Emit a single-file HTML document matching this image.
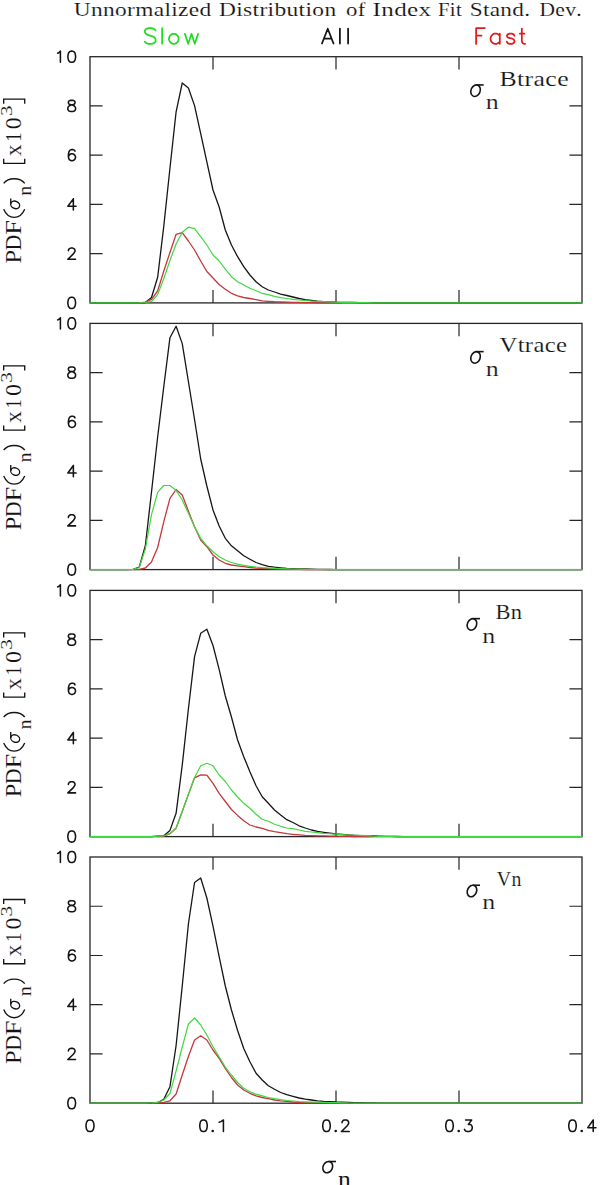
<!DOCTYPE html>
<html><head><meta charset="utf-8"><title>Unnormalized Distribution of Index Fit Stand. Dev.</title>
<style>
html,body{margin:0;padding:0;background:#fff;width:600px;height:1185px;overflow:hidden}
svg{display:block}
text{font-kerning:none}
</style></head><body>
<svg width="600" height="1185" viewBox="0 0 600 1185">
<rect width="600" height="1185" fill="#fff"/>
<text transform="translate(73.71,16.00) scale(1.1776,1)" font-family='"Liberation Serif",serif' font-size="19.85" letter-spacing="0.300" stroke="#fff" stroke-width="0.12" fill="#141414" >Unnormalized</text>
<text transform="translate(218.92,16.00) scale(1.1814,1)" font-family='"Liberation Serif",serif' font-size="19.85" letter-spacing="0.300" stroke="#fff" stroke-width="0.12" fill="#141414" >Distribution</text>
<text transform="translate(345.93,16.00) scale(1.1445,1)" font-family='"Liberation Serif",serif' font-size="19.85" letter-spacing="0.300" stroke="#fff" stroke-width="0.12" fill="#141414" >of</text>
<text transform="translate(372.49,16.00) scale(1.2657,1)" font-family='"Liberation Serif",serif' font-size="19.85" letter-spacing="0.300" stroke="#fff" stroke-width="0.12" fill="#141414" >Index</text>
<text transform="translate(438.00,16.00) scale(1.0465,1)" font-family='"Liberation Serif",serif' font-size="19.85" letter-spacing="0.300" stroke="#fff" stroke-width="0.12" fill="#141414" >Fit</text>
<text transform="translate(469.65,16.00) scale(1.1706,1)" font-family='"Liberation Serif",serif' font-size="19.85" letter-spacing="0.300" stroke="#fff" stroke-width="0.12" fill="#141414" >Stand.</text>
<text transform="translate(539.48,16.00) scale(1.0824,1)" font-family='"Liberation Serif",serif' font-size="19.85" letter-spacing="0.300" stroke="#fff" stroke-width="0.12" fill="#141414" >Dev.</text>
<path d="M155.62,30.38L154.08,28.88L151.75,28.12L148.65,28.12L146.33,28.88L144.78,30.38L144.78,31.88L145.55,33.38L146.33,34.12L147.88,34.88L152.53,36.38L154.08,37.12L154.85,37.88L155.62,39.38L155.62,41.62L154.08,43.12L151.75,43.88L148.65,43.88L146.33,43.12L144.78,41.62M162.12,28.18L162.12,43.73M172.69,33.88L171.20,34.59L169.72,36.01L168.97,38.14L168.97,39.56L169.72,41.69L171.20,43.11L172.69,43.83L174.91,43.83L176.40,43.11L177.88,41.69L178.62,39.56L178.62,38.14L177.88,36.01L176.40,34.59L174.91,33.88L172.69,33.88M184.88,33.88L188.19,43.83M191.50,33.88L188.19,43.83M191.50,33.88L194.81,43.83M198.12,33.88L194.81,43.83" fill="none" stroke="#22dc22" stroke-width="1.75" stroke-linecap="round" stroke-linejoin="round"/>
<path d="M327.75,28.77L321.98,43.52M327.75,28.77L333.52,43.52M324.14,38.61L331.36,38.61M339.90,28.58L339.90,43.52M348.10,28.58L348.10,43.52" fill="none" stroke="#141414" stroke-width="1.75" stroke-linecap="round" stroke-linejoin="round"/>
<path d="M476.12,28.12L476.12,43.88M476.12,28.12L484.88,28.12M476.12,35.62L481.51,35.62M499.82,33.58L499.82,43.83M499.82,35.77L498.28,34.31L496.74,33.58L494.43,33.58L492.89,34.31L491.35,35.77L490.57,37.97L490.57,39.43L491.35,41.63L492.89,43.09L494.43,43.83L496.74,43.83L498.28,43.09L499.82,41.63M514.42,35.77L513.74,34.31L511.68,33.58L509.62,33.58L507.56,34.31L506.88,35.77L507.56,37.24L508.93,37.97L512.37,38.70L513.74,39.43L514.42,40.90L514.42,41.63L513.74,43.09L511.68,43.83L509.62,43.83L507.56,43.09L506.88,41.63M521.84,28.57L521.84,40.92L522.50,43.10L523.81,43.83L525.12,43.83M519.88,33.66L524.47,33.66" fill="none" stroke="#e01c1c" stroke-width="1.75" stroke-linecap="round" stroke-linejoin="round"/>
<rect x="90.0" y="56.7" width="492.0" height="246.2" fill="none" stroke="#262626" stroke-width="1.3"/>
<path d="M90.0,253.66h12.6M582.0,253.66h-12.6M90.0,204.42h12.6M582.0,204.42h-12.6M90.0,155.18h12.6M582.0,155.18h-12.6M90.0,105.94h12.6M582.0,105.94h-12.6M213.00,56.7v12.8M213.00,302.9v-12.8M336.00,56.7v12.8M336.00,302.9v-12.8M459.00,56.7v12.8M459.00,302.9v-12.8" stroke="#262626" stroke-width="1.2" fill="none"/>
<polyline points="90.00,302.90 96.15,302.90 102.30,302.90 108.45,302.90 114.60,302.90 120.75,302.90 126.90,302.90 133.05,302.90 139.20,302.90 145.35,302.50 151.50,297.50 157.65,277.30 163.80,226.00 169.95,168.30 176.10,111.80 182.25,83.00 188.40,88.00 194.55,105.60 200.70,133.70 206.85,161.90 213.00,190.00 219.15,207.00 225.30,230.00 231.45,245.00 237.60,256.70 243.75,266.70 249.90,275.00 256.05,281.70 262.20,286.70 268.35,290.00 274.50,292.00 280.65,294.20 286.80,295.50 292.95,297.00 299.10,298.50 305.25,299.70 311.40,300.50 317.55,301.20 323.70,301.60 329.85,301.90 336.00,302.20 342.15,302.30 348.30,302.40 354.45,302.47 360.60,302.53 366.75,302.60 372.90,302.72 379.05,302.79 385.20,302.84 391.35,302.86 397.50,302.88 403.65,302.89 409.80,302.89 415.95,302.89 422.10,302.90 428.25,302.90 434.40,302.90 440.55,302.90 446.70,302.90 452.85,302.90 459.00,302.90 465.15,302.90 471.30,302.90 477.45,302.90 483.60,302.90 489.75,302.90 495.90,302.90 502.05,302.90 508.20,302.90 514.35,302.90 520.50,302.90 526.65,302.90 532.80,302.90 538.95,302.90 545.10,302.90 551.25,302.90 557.40,302.90 563.55,302.90 569.70,302.90 575.85,302.90 582.00,302.90" fill="none" stroke="#161616" stroke-width="1.3" stroke-linejoin="round"/>
<polyline points="139.20,302.90 145.35,302.20 151.50,299.30 157.65,291.00 163.80,271.00 169.95,252.50 176.10,234.30 182.25,232.60 188.40,241.00 194.55,250.00 200.70,261.00 206.85,271.50 213.00,278.00 219.15,284.50 225.30,289.30 231.45,293.30 237.60,295.80 243.75,297.50 249.90,298.50 256.05,299.70 262.20,300.80 268.35,301.30 274.50,301.70 280.65,301.95 286.80,302.20 292.95,302.33 299.10,302.47 305.25,302.60 311.40,302.72 317.55,302.79 323.70,302.84 329.85,302.86 336.00,302.88 342.15,302.89" fill="none" stroke="#c4383c" stroke-width="1.3" stroke-linejoin="round"/>
<polyline points="90.00,302.90 96.15,302.90 102.30,302.90 108.45,302.90 114.60,302.90 120.75,302.90 126.90,302.90 133.05,302.90 139.20,302.90 145.35,302.50 151.50,301.50 157.65,294.60 163.80,278.50 169.95,260.50 176.10,244.00 182.25,232.20 188.40,227.20 194.55,228.70 200.70,236.70 206.85,245.00 213.00,255.00 219.15,261.00 225.30,269.20 231.45,276.70 237.60,281.70 243.75,285.00 249.90,288.30 256.05,290.80 262.20,293.30 268.35,294.70 274.50,296.30 280.65,297.60 286.80,298.50 292.95,299.30 299.10,300.00 305.25,300.60 311.40,301.00 317.55,301.35 323.70,301.70 329.85,301.95 336.00,302.20 342.15,302.30 348.30,302.40 354.45,302.50 360.60,302.60 366.75,302.72 372.90,302.79 379.05,302.84 385.20,302.86 391.35,302.88 397.50,302.89 403.65,302.89 409.80,302.89 415.95,302.90 422.10,302.90 428.25,302.90 434.40,302.90 440.55,302.90 446.70,302.90 452.85,302.90 459.00,302.90 465.15,302.90 471.30,302.90 477.45,302.90 483.60,302.90 489.75,302.90 495.90,302.90 502.05,302.90 508.20,302.90 514.35,302.90 520.50,302.90 526.65,302.90 532.80,302.90 538.95,302.90 545.10,302.90 551.25,302.90 557.40,302.90 563.55,302.90 569.70,302.90 575.85,302.90 582.00,302.90" fill="none" stroke="#40d840" stroke-width="1.2" stroke-linejoin="round"/>
<path d="M71.15,297.32L69.50,297.85L68.40,299.43L67.85,302.08L67.85,303.66L68.40,306.31L69.50,307.90L71.15,308.43L72.25,308.43L73.90,307.90L75.00,306.31L75.55,303.66L75.55,302.08L75.00,299.43L73.90,297.85L72.25,297.32L71.15,297.32M68.40,250.72L68.40,250.19L68.95,249.13L69.50,248.60L70.60,248.08L72.80,248.08L73.90,248.60L74.45,249.13L75.00,250.19L75.00,251.25L74.45,252.31L73.35,253.90L67.85,259.19L75.55,259.19M73.35,198.84L67.85,206.24L76.10,206.24M73.35,198.84L73.35,209.94M75.00,151.18L74.45,150.12L72.80,149.60L71.70,149.60L70.05,150.12L68.95,151.71L68.40,154.36L68.40,157.00L68.95,159.12L70.05,160.18L71.70,160.71L72.25,160.71L73.90,160.18L75.00,159.12L75.55,157.53L75.55,157.00L75.00,155.42L73.90,154.36L72.25,153.83L71.70,153.83L70.05,154.36L68.95,155.42L68.40,157.00M70.60,100.36L68.95,100.88L68.40,101.94L68.40,103.00L68.95,104.06L70.05,104.59L72.25,105.12L73.90,105.65L75.00,106.70L75.55,107.76L75.55,109.35L75.00,110.41L74.45,110.94L72.80,111.46L70.60,111.46L68.95,110.94L68.40,110.41L67.85,109.35L67.85,107.76L68.40,106.70L69.50,105.65L71.15,105.12L73.35,104.59L74.45,104.06L75.00,103.00L75.00,101.94L74.45,100.88L72.80,100.36L70.60,100.36M57.65,53.23L58.75,52.70L60.40,51.12L60.40,62.22M71.20,51.12L69.55,51.64L68.45,53.23L67.90,55.88L67.90,57.46L68.45,60.11L69.55,61.70L71.20,62.22L72.30,62.22L73.95,61.70L75.05,60.11L75.60,57.46L75.60,55.88L75.05,53.23L73.95,51.64L72.30,51.12L71.20,51.12" fill="none" stroke="#141414" stroke-width="1.55" stroke-linecap="round" stroke-linejoin="round"/>
<g transform="translate(20.7,262.90) rotate(-90)"><text transform="translate(-0.70,0.00) scale(1.0713,1)" font-family='"Liberation Serif",serif' font-size="22.60" stroke="#fff" stroke-width="0.12" fill="#141414" >P</text><text transform="translate(12.47,-0.04) scale(0.9713,1)" font-family='"Liberation Serif",serif' font-size="22.54" stroke="#fff" stroke-width="0.12" fill="#141414" >D</text><text transform="translate(28.04,0.00) scale(1.1709,1)" font-family='"Liberation Serif",serif' font-size="22.60" stroke="#fff" stroke-width="0.12" fill="#141414" >F</text><g transform="translate(53.60,-10.60) scale(0.8057,0.8031)" fill="none" stroke="#141414" stroke-width="1.35"><ellipse cx="5.5" cy="6.35" rx="4.52" ry="5.74" transform="rotate(24.5 5.5 6.35)" vector-effect="non-scaling-stroke"/><path d="M6.35,0.8H13.5" vector-effect="non-scaling-stroke"/></g><text transform="translate(67.04,10.10) scale(1.1294,1)" font-family='"Liberation Serif",serif' font-size="17.83" stroke="#fff" stroke-width="0.12" fill="#141414" >n</text><text transform="translate(106.90,0.20) scale(1.0233,1)" font-family='"Liberation Serif",serif' font-size="22.44" stroke="#fff" stroke-width="0.12" fill="#141414" >x</text><text transform="translate(121.13,0.20) scale(0.8432,1)" font-family='"Liberation Serif",serif' font-size="22.57" stroke="#fff" stroke-width="0.12" fill="#141414" >1</text><text transform="translate(133.58,-0.02) scale(1.0684,1)" font-family='"Liberation Serif",serif' font-size="22.53" stroke="#fff" stroke-width="0.12" fill="#141414" >0</text><text transform="translate(146.79,-9.06) scale(1.2864,1)" font-family='"Liberation Serif",serif' font-size="16.37" stroke="#fff" stroke-width="0.12" fill="#141414" >3</text><path d="M53.60,-17.02C42.77,-12.39 42.77,-0.61 53.60,4.02M79.60,-17.02C85.63,-12.39 85.63,-0.61 79.60,4.02M104.1,-17.02H99.47V4.02H104.1M159.1,-17.02H163.72V4.02H159.1" fill="none" stroke="#141414" stroke-width="1.35"/></g>
<g transform="translate(470.00,84.10) scale(1.0106,1.0394)" fill="none" stroke="#141414" stroke-width="1.6"><ellipse cx="5.5" cy="6.35" rx="4.52" ry="5.74" transform="rotate(24.5 5.5 6.35)" vector-effect="non-scaling-stroke"/><path d="M6.35,0.8H13.5" vector-effect="non-scaling-stroke"/></g>
<text transform="translate(485.80,109.00) scale(1.1884,1)" font-family='"Liberation Serif",serif' font-size="21.86" stroke="#fff" stroke-width="0.2" fill="#141414" >n</text>
<text transform="translate(499.56,85.50) scale(1.2054,1)" font-family='"Liberation Serif",serif' font-size="21.37" letter-spacing="0.300" stroke="#fff" stroke-width="0.15" fill="#141414" >Btrace</text>
<rect x="90.0" y="323.4" width="492.0" height="246.2" fill="none" stroke="#262626" stroke-width="1.3"/>
<path d="M90.0,520.36h12.6M582.0,520.36h-12.6M90.0,471.12h12.6M582.0,471.12h-12.6M90.0,421.88h12.6M582.0,421.88h-12.6M90.0,372.64h12.6M582.0,372.64h-12.6M213.00,323.4v12.8M213.00,569.5999999999999v-12.8M336.00,323.4v12.8M336.00,569.5999999999999v-12.8M459.00,323.4v12.8M459.00,569.5999999999999v-12.8" stroke="#262626" stroke-width="1.2" fill="none"/>
<polyline points="90.00,569.60 96.15,569.60 102.30,569.60 108.45,569.60 114.60,569.60 120.75,569.60 126.90,569.60 133.05,569.30 139.20,567.20 145.35,545.70 151.50,492.00 157.65,437.00 163.80,386.50 169.95,337.70 176.10,326.20 182.25,343.60 188.40,381.50 194.55,419.50 200.70,459.00 206.85,486.00 213.00,510.00 219.15,526.00 225.30,538.30 231.45,545.80 237.60,550.80 243.75,555.80 249.90,559.20 256.05,562.50 262.20,564.70 268.35,566.30 274.50,567.20 280.65,567.80 286.80,568.30 292.95,568.55 299.10,568.80 305.25,569.00 311.40,569.20 317.55,569.36 323.70,569.46 329.85,569.51 336.00,569.55 342.15,569.57 348.30,569.58 354.45,569.59 360.60,569.59 366.75,569.60 372.90,569.60 379.05,569.60 385.20,569.60 391.35,569.60 397.50,569.60 403.65,569.60 409.80,569.60 415.95,569.60 422.10,569.60 428.25,569.60 434.40,569.60 440.55,569.60 446.70,569.60 452.85,569.60 459.00,569.60 465.15,569.60 471.30,569.60 477.45,569.60 483.60,569.60 489.75,569.60 495.90,569.60 502.05,569.60 508.20,569.60 514.35,569.60 520.50,569.60 526.65,569.60 532.80,569.60 538.95,569.60 545.10,569.60 551.25,569.60 557.40,569.60 563.55,569.60 569.70,569.60 575.85,569.60 582.00,569.60" fill="none" stroke="#161616" stroke-width="1.3" stroke-linejoin="round"/>
<polyline points="133.05,569.60 139.20,569.30 145.35,568.00 151.50,562.00 157.65,547.50 163.80,521.60 169.95,498.40 176.10,489.50 182.25,495.00 188.40,511.20 194.55,526.70 200.70,540.00 206.85,546.70 213.00,555.00 219.15,560.00 225.30,563.30 231.45,565.00 237.60,565.80 243.75,566.70 249.90,567.50 256.05,568.00 262.20,568.30 268.35,568.60 274.50,568.90 280.65,569.03 286.80,569.17 292.95,569.30 299.10,569.42 305.25,569.49 311.40,569.54 317.55,569.56 323.70,569.58 329.85,569.59" fill="none" stroke="#c4383c" stroke-width="1.3" stroke-linejoin="round"/>
<polyline points="90.00,569.60 96.15,569.60 102.30,569.60 108.45,569.60 114.60,569.60 120.75,569.60 126.90,569.60 133.05,569.30 139.20,567.50 145.35,549.00 151.50,514.70 157.65,492.40 163.80,485.50 169.95,485.50 176.10,490.50 182.25,500.00 188.40,513.30 194.55,526.70 200.70,538.30 206.85,545.80 213.00,551.70 219.15,556.70 225.30,560.00 231.45,562.50 237.60,564.20 243.75,565.30 249.90,566.30 256.05,567.20 262.20,567.70 268.35,568.00 274.50,568.30 280.65,568.60 286.80,568.80 292.95,569.00 299.10,569.20 305.25,569.36 311.40,569.46 317.55,569.51 323.70,569.55 329.85,569.57 336.00,569.58 342.15,569.59 348.30,569.59 354.45,569.60 360.60,569.60 366.75,569.60 372.90,569.60 379.05,569.60 385.20,569.60 391.35,569.60 397.50,569.60 403.65,569.60 409.80,569.60 415.95,569.60 422.10,569.60 428.25,569.60 434.40,569.60 440.55,569.60 446.70,569.60 452.85,569.60 459.00,569.60 465.15,569.60 471.30,569.60 477.45,569.60 483.60,569.60 489.75,569.60 495.90,569.60 502.05,569.60 508.20,569.60 514.35,569.60 520.50,569.60 526.65,569.60 532.80,569.60 538.95,569.60 545.10,569.60 551.25,569.60 557.40,569.60 563.55,569.60 569.70,569.60 575.85,569.60 582.00,569.60" fill="none" stroke="#40d840" stroke-width="1.2" stroke-linejoin="round"/>
<path d="M71.15,564.02L69.50,564.54L68.40,566.13L67.85,568.78L67.85,570.36L68.40,573.01L69.50,574.60L71.15,575.12L72.25,575.12L73.90,574.60L75.00,573.01L75.55,570.36L75.55,568.78L75.00,566.13L73.90,564.54L72.25,564.02L71.15,564.02M68.40,517.42L68.40,516.89L68.95,515.83L69.50,515.30L70.60,514.78L72.80,514.78L73.90,515.30L74.45,515.83L75.00,516.89L75.00,517.95L74.45,519.01L73.35,520.59L67.85,525.88L75.55,525.88M73.35,465.54L67.85,472.94L76.10,472.94M73.35,465.54L73.35,476.64M75.00,417.88L74.45,416.82L72.80,416.30L71.70,416.30L70.05,416.82L68.95,418.41L68.40,421.06L68.40,423.70L68.95,425.82L70.05,426.88L71.70,427.40L72.25,427.40L73.90,426.88L75.00,425.82L75.55,424.23L75.55,423.70L75.00,422.11L73.90,421.06L72.25,420.53L71.70,420.53L70.05,421.06L68.95,422.11L68.40,423.70M70.60,367.06L68.95,367.58L68.40,368.64L68.40,369.70L68.95,370.76L70.05,371.29L72.25,371.82L73.90,372.35L75.00,373.40L75.55,374.46L75.55,376.05L75.00,377.11L74.45,377.64L72.80,378.16L70.60,378.16L68.95,377.64L68.40,377.11L67.85,376.05L67.85,374.46L68.40,373.40L69.50,372.35L71.15,371.82L73.35,371.29L74.45,370.76L75.00,369.70L75.00,368.64L74.45,367.58L72.80,367.06L70.60,367.06M57.65,319.93L58.75,319.40L60.40,317.82L60.40,328.92M71.20,317.82L69.55,318.34L68.45,319.93L67.90,322.58L67.90,324.16L68.45,326.81L69.55,328.40L71.20,328.92L72.30,328.92L73.95,328.40L75.05,326.81L75.60,324.16L75.60,322.58L75.05,319.93L73.95,318.34L72.30,317.82L71.20,317.82" fill="none" stroke="#141414" stroke-width="1.55" stroke-linecap="round" stroke-linejoin="round"/>
<g transform="translate(20.7,529.60) rotate(-90)"><text transform="translate(-0.70,0.00) scale(1.0713,1)" font-family='"Liberation Serif",serif' font-size="22.60" stroke="#fff" stroke-width="0.12" fill="#141414" >P</text><text transform="translate(12.47,-0.04) scale(0.9713,1)" font-family='"Liberation Serif",serif' font-size="22.54" stroke="#fff" stroke-width="0.12" fill="#141414" >D</text><text transform="translate(28.04,0.00) scale(1.1709,1)" font-family='"Liberation Serif",serif' font-size="22.60" stroke="#fff" stroke-width="0.12" fill="#141414" >F</text><g transform="translate(53.60,-10.60) scale(0.8057,0.8031)" fill="none" stroke="#141414" stroke-width="1.35"><ellipse cx="5.5" cy="6.35" rx="4.52" ry="5.74" transform="rotate(24.5 5.5 6.35)" vector-effect="non-scaling-stroke"/><path d="M6.35,0.8H13.5" vector-effect="non-scaling-stroke"/></g><text transform="translate(67.04,10.10) scale(1.1294,1)" font-family='"Liberation Serif",serif' font-size="17.83" stroke="#fff" stroke-width="0.12" fill="#141414" >n</text><text transform="translate(106.90,0.20) scale(1.0233,1)" font-family='"Liberation Serif",serif' font-size="22.44" stroke="#fff" stroke-width="0.12" fill="#141414" >x</text><text transform="translate(121.13,0.20) scale(0.8432,1)" font-family='"Liberation Serif",serif' font-size="22.57" stroke="#fff" stroke-width="0.12" fill="#141414" >1</text><text transform="translate(133.58,-0.02) scale(1.0684,1)" font-family='"Liberation Serif",serif' font-size="22.53" stroke="#fff" stroke-width="0.12" fill="#141414" >0</text><text transform="translate(146.79,-9.06) scale(1.2864,1)" font-family='"Liberation Serif",serif' font-size="16.37" stroke="#fff" stroke-width="0.12" fill="#141414" >3</text><path d="M53.60,-17.02C42.77,-12.39 42.77,-0.61 53.60,4.02M79.60,-17.02C85.63,-12.39 85.63,-0.61 79.60,4.02M104.1,-17.02H99.47V4.02H104.1M159.1,-17.02H163.72V4.02H159.1" fill="none" stroke="#141414" stroke-width="1.35"/></g>
<g transform="translate(470.00,350.80) scale(1.0106,1.0394)" fill="none" stroke="#141414" stroke-width="1.6"><ellipse cx="5.5" cy="6.35" rx="4.52" ry="5.74" transform="rotate(24.5 5.5 6.35)" vector-effect="non-scaling-stroke"/><path d="M6.35,0.8H13.5" vector-effect="non-scaling-stroke"/></g>
<text transform="translate(485.80,375.70) scale(1.1884,1)" font-family='"Liberation Serif",serif' font-size="21.86" stroke="#fff" stroke-width="0.2" fill="#141414" >n</text>
<text transform="translate(499.42,352.20) scale(1.1588,1)" font-family='"Liberation Serif",serif' font-size="21.37" letter-spacing="0.300" stroke="#fff" stroke-width="0.15" fill="#141414" >Vtrace</text>
<rect x="90.0" y="590.4" width="492.0" height="246.2" fill="none" stroke="#262626" stroke-width="1.3"/>
<path d="M90.0,787.36h12.6M582.0,787.36h-12.6M90.0,738.12h12.6M582.0,738.12h-12.6M90.0,688.88h12.6M582.0,688.88h-12.6M90.0,639.64h12.6M582.0,639.64h-12.6M213.00,590.4v12.8M213.00,836.5999999999999v-12.8M336.00,590.4v12.8M336.00,836.5999999999999v-12.8M459.00,590.4v12.8M459.00,836.5999999999999v-12.8" stroke="#262626" stroke-width="1.2" fill="none"/>
<polyline points="90.00,836.60 96.15,836.60 102.30,836.60 108.45,836.60 114.60,836.60 120.75,836.60 126.90,836.60 133.05,836.60 139.20,836.60 145.35,836.60 151.50,836.60 157.65,836.20 163.80,835.80 169.95,830.40 176.10,813.30 182.25,765.00 188.40,709.00 194.55,656.70 200.70,633.30 206.85,629.20 213.00,645.50 219.15,669.30 225.30,696.00 231.45,717.00 237.60,740.00 243.75,756.70 249.90,771.70 256.05,785.80 262.20,796.70 268.35,803.30 274.50,810.00 280.65,815.00 286.80,819.70 292.95,822.50 299.10,825.80 305.25,828.00 311.40,830.00 317.55,831.30 323.70,832.30 329.85,833.20 336.00,834.00 342.15,834.50 348.30,835.00 354.45,835.30 360.60,835.60 366.75,835.80 372.90,836.00 379.05,836.24 385.20,836.38 391.35,836.47 397.50,836.52 403.65,836.55 409.80,836.57 415.95,836.58 422.10,836.59 428.25,836.59 434.40,836.60 440.55,836.60 446.70,836.60 452.85,836.60 459.00,836.60 465.15,836.60 471.30,836.60 477.45,836.60 483.60,836.60 489.75,836.60 495.90,836.60 502.05,836.60 508.20,836.60 514.35,836.60 520.50,836.60 526.65,836.60 532.80,836.60 538.95,836.60 545.10,836.60 551.25,836.60 557.40,836.60 563.55,836.60 569.70,836.60 575.85,836.60 582.00,836.60" fill="none" stroke="#161616" stroke-width="1.3" stroke-linejoin="round"/>
<polyline points="157.65,836.60 163.80,836.20 169.95,833.70 176.10,828.20 182.25,811.50 188.40,794.40 194.55,777.80 200.70,774.80 206.85,775.20 213.00,783.30 219.15,793.30 225.30,801.50 231.45,809.50 237.60,815.40 243.75,820.80 249.90,825.00 256.05,827.00 262.20,828.30 268.35,830.30 274.50,831.70 280.65,832.70 286.80,833.70 292.95,834.30 299.10,834.80 305.25,835.30 311.40,835.55 317.55,835.80 323.70,835.93 329.85,836.07 336.00,836.20 342.15,836.36 348.30,836.46 354.45,836.51 360.60,836.55 366.75,836.57 372.90,836.58" fill="none" stroke="#c4383c" stroke-width="1.3" stroke-linejoin="round"/>
<polyline points="90.00,836.60 96.15,836.60 102.30,836.60 108.45,836.60 114.60,836.60 120.75,836.60 126.90,836.60 133.05,836.60 139.20,836.60 145.35,836.60 151.50,836.60 157.65,836.20 163.80,836.00 169.95,833.50 176.10,828.00 182.25,811.30 188.40,794.50 194.55,777.50 200.70,765.80 206.85,763.30 213.00,765.80 219.15,775.00 225.30,781.50 231.45,790.00 237.60,797.00 243.75,803.30 249.90,808.30 256.05,814.20 262.20,819.20 268.35,821.30 274.50,824.20 280.65,826.30 286.80,828.00 292.95,828.70 299.10,830.00 305.25,831.30 311.40,832.00 317.55,832.70 323.70,833.30 329.85,833.75 336.00,834.20 342.15,834.60 348.30,835.00 354.45,835.23 360.60,835.47 366.75,835.70 372.90,836.06 379.05,836.28 385.20,836.41 391.35,836.48 397.50,836.53 403.65,836.56 409.80,836.57 415.95,836.58 422.10,836.59 428.25,836.59 434.40,836.60 440.55,836.60 446.70,836.60 452.85,836.60 459.00,836.60 465.15,836.60 471.30,836.60 477.45,836.60 483.60,836.60 489.75,836.60 495.90,836.60 502.05,836.60 508.20,836.60 514.35,836.60 520.50,836.60 526.65,836.60 532.80,836.60 538.95,836.60 545.10,836.60 551.25,836.60 557.40,836.60 563.55,836.60 569.70,836.60 575.85,836.60 582.00,836.60" fill="none" stroke="#40d840" stroke-width="1.2" stroke-linejoin="round"/>
<path d="M71.15,831.02L69.50,831.54L68.40,833.13L67.85,835.78L67.85,837.36L68.40,840.01L69.50,841.60L71.15,842.12L72.25,842.12L73.90,841.60L75.00,840.01L75.55,837.36L75.55,835.78L75.00,833.13L73.90,831.54L72.25,831.02L71.15,831.02M68.40,784.42L68.40,783.89L68.95,782.83L69.50,782.30L70.60,781.78L72.80,781.78L73.90,782.30L74.45,782.83L75.00,783.89L75.00,784.95L74.45,786.01L73.35,787.59L67.85,792.88L75.55,792.88M73.35,732.54L67.85,739.94L76.10,739.94M73.35,732.54L73.35,743.64M75.00,684.88L74.45,683.82L72.80,683.30L71.70,683.30L70.05,683.82L68.95,685.41L68.40,688.06L68.40,690.70L68.95,692.82L70.05,693.88L71.70,694.40L72.25,694.40L73.90,693.88L75.00,692.82L75.55,691.23L75.55,690.70L75.00,689.11L73.90,688.06L72.25,687.53L71.70,687.53L70.05,688.06L68.95,689.11L68.40,690.70M70.60,634.06L68.95,634.58L68.40,635.64L68.40,636.70L68.95,637.76L70.05,638.29L72.25,638.82L73.90,639.35L75.00,640.40L75.55,641.46L75.55,643.05L75.00,644.11L74.45,644.64L72.80,645.16L70.60,645.16L68.95,644.64L68.40,644.11L67.85,643.05L67.85,641.46L68.40,640.40L69.50,639.35L71.15,638.82L73.35,638.29L74.45,637.76L75.00,636.70L75.00,635.64L74.45,634.58L72.80,634.06L70.60,634.06M57.65,586.93L58.75,586.40L60.40,584.82L60.40,595.92M71.20,584.82L69.55,585.34L68.45,586.93L67.90,589.58L67.90,591.16L68.45,593.81L69.55,595.40L71.20,595.92L72.30,595.92L73.95,595.40L75.05,593.81L75.60,591.16L75.60,589.58L75.05,586.93L73.95,585.34L72.30,584.82L71.20,584.82" fill="none" stroke="#141414" stroke-width="1.55" stroke-linecap="round" stroke-linejoin="round"/>
<g transform="translate(20.7,796.60) rotate(-90)"><text transform="translate(-0.70,0.00) scale(1.0713,1)" font-family='"Liberation Serif",serif' font-size="22.60" stroke="#fff" stroke-width="0.12" fill="#141414" >P</text><text transform="translate(12.47,-0.04) scale(0.9713,1)" font-family='"Liberation Serif",serif' font-size="22.54" stroke="#fff" stroke-width="0.12" fill="#141414" >D</text><text transform="translate(28.04,0.00) scale(1.1709,1)" font-family='"Liberation Serif",serif' font-size="22.60" stroke="#fff" stroke-width="0.12" fill="#141414" >F</text><g transform="translate(53.60,-10.60) scale(0.8057,0.8031)" fill="none" stroke="#141414" stroke-width="1.35"><ellipse cx="5.5" cy="6.35" rx="4.52" ry="5.74" transform="rotate(24.5 5.5 6.35)" vector-effect="non-scaling-stroke"/><path d="M6.35,0.8H13.5" vector-effect="non-scaling-stroke"/></g><text transform="translate(67.04,10.10) scale(1.1294,1)" font-family='"Liberation Serif",serif' font-size="17.83" stroke="#fff" stroke-width="0.12" fill="#141414" >n</text><text transform="translate(106.90,0.20) scale(1.0233,1)" font-family='"Liberation Serif",serif' font-size="22.44" stroke="#fff" stroke-width="0.12" fill="#141414" >x</text><text transform="translate(121.13,0.20) scale(0.8432,1)" font-family='"Liberation Serif",serif' font-size="22.57" stroke="#fff" stroke-width="0.12" fill="#141414" >1</text><text transform="translate(133.58,-0.02) scale(1.0684,1)" font-family='"Liberation Serif",serif' font-size="22.53" stroke="#fff" stroke-width="0.12" fill="#141414" >0</text><text transform="translate(146.79,-9.06) scale(1.2864,1)" font-family='"Liberation Serif",serif' font-size="16.37" stroke="#fff" stroke-width="0.12" fill="#141414" >3</text><path d="M53.60,-17.02C42.77,-12.39 42.77,-0.61 53.60,4.02M79.60,-17.02C85.63,-12.39 85.63,-0.61 79.60,4.02M104.1,-17.02H99.47V4.02H104.1M159.1,-17.02H163.72V4.02H159.1" fill="none" stroke="#141414" stroke-width="1.35"/></g>
<g transform="translate(466.40,617.80) scale(1.0106,1.0394)" fill="none" stroke="#141414" stroke-width="1.6"><ellipse cx="5.5" cy="6.35" rx="4.52" ry="5.74" transform="rotate(24.5 5.5 6.35)" vector-effect="non-scaling-stroke"/><path d="M6.35,0.8H13.5" vector-effect="non-scaling-stroke"/></g>
<text transform="translate(482.20,642.70) scale(1.1884,1)" font-family='"Liberation Serif",serif' font-size="21.86" stroke="#fff" stroke-width="0.2" fill="#141414" >n</text>
<text transform="translate(495.55,619.20) scale(1.0533,1)" font-family='"Liberation Serif",serif' font-size="21.37" letter-spacing="0.300" stroke="#fff" stroke-width="0.15" fill="#141414" >Bn</text>
<rect x="90.0" y="857.0" width="492.0" height="246.2" fill="none" stroke="#262626" stroke-width="1.3"/>
<path d="M90.0,1053.96h12.6M582.0,1053.96h-12.6M90.0,1004.72h12.6M582.0,1004.72h-12.6M90.0,955.48h12.6M582.0,955.48h-12.6M90.0,906.24h12.6M582.0,906.24h-12.6M213.00,857.0v12.8M213.00,1103.2v-12.8M336.00,857.0v12.8M336.00,1103.2v-12.8M459.00,857.0v12.8M459.00,1103.2v-12.8" stroke="#262626" stroke-width="1.2" fill="none"/>
<polyline points="90.00,1103.20 96.15,1103.20 102.30,1103.20 108.45,1103.20 114.60,1103.20 120.75,1103.20 126.90,1103.20 133.05,1103.20 139.20,1103.20 145.35,1103.20 151.50,1103.00 157.65,1102.50 163.80,1099.30 169.95,1086.70 176.10,1045.50 182.25,986.00 188.40,924.00 194.55,882.50 200.70,878.00 206.85,898.00 213.00,926.20 219.15,956.60 225.30,986.00 231.45,1010.00 237.60,1030.50 243.75,1048.50 249.90,1061.70 256.05,1073.30 262.20,1080.00 268.35,1085.80 274.50,1089.20 280.65,1092.50 286.80,1094.70 292.95,1096.30 299.10,1098.00 305.25,1099.20 311.40,1100.00 317.55,1100.80 323.70,1101.30 329.85,1101.65 336.00,1102.00 342.15,1102.20 348.30,1102.40 354.45,1102.60 360.60,1102.73 366.75,1102.87 372.90,1103.00 379.05,1103.08 385.20,1103.13 391.35,1103.16 397.50,1103.17 403.65,1103.18 409.80,1103.19 415.95,1103.19 422.10,1103.20 428.25,1103.20 434.40,1103.20 440.55,1103.20 446.70,1103.20 452.85,1103.20 459.00,1103.20 465.15,1103.20 471.30,1103.20 477.45,1103.20 483.60,1103.20 489.75,1103.20 495.90,1103.20 502.05,1103.20 508.20,1103.20 514.35,1103.20 520.50,1103.20 526.65,1103.20 532.80,1103.20 538.95,1103.20 545.10,1103.20 551.25,1103.20 557.40,1103.20 563.55,1103.20 569.70,1103.20 575.85,1103.20 582.00,1103.20" fill="none" stroke="#161616" stroke-width="1.3" stroke-linejoin="round"/>
<polyline points="151.50,1103.20 157.65,1103.00 163.80,1102.30 169.95,1100.80 176.10,1094.00 182.25,1075.00 188.40,1056.50 194.55,1040.00 200.70,1035.70 206.85,1040.00 213.00,1050.00 219.15,1058.30 225.30,1068.30 231.45,1077.50 237.60,1085.00 243.75,1090.00 249.90,1093.30 256.05,1095.80 262.20,1097.50 268.35,1098.70 274.50,1100.00 280.65,1100.80 286.80,1101.30 292.95,1102.00 299.10,1102.50 305.25,1102.65 311.40,1102.80 317.55,1102.96 323.70,1103.06 329.85,1103.11 336.00,1103.15 342.15,1103.17 348.30,1103.18" fill="none" stroke="#c4383c" stroke-width="1.3" stroke-linejoin="round"/>
<polyline points="90.00,1103.20 96.15,1103.20 102.30,1103.20 108.45,1103.20 114.60,1103.20 120.75,1103.20 126.90,1103.20 133.05,1103.20 139.20,1103.20 145.35,1103.20 151.50,1103.00 157.65,1102.30 163.80,1100.00 169.95,1093.50 176.10,1071.00 182.25,1047.00 188.40,1024.00 194.55,1018.00 200.70,1025.00 206.85,1035.00 213.00,1046.70 219.15,1056.70 225.30,1067.00 231.45,1075.00 237.60,1082.50 243.75,1088.30 249.90,1091.70 256.05,1094.20 262.20,1095.80 268.35,1097.50 274.50,1098.70 280.65,1099.70 286.80,1100.50 292.95,1101.00 299.10,1101.50 305.25,1101.80 311.40,1102.00 317.55,1102.20 323.70,1102.37 329.85,1102.53 336.00,1102.70 342.15,1102.90 348.30,1103.02 354.45,1103.09 360.60,1103.14 366.75,1103.16 372.90,1103.18 379.05,1103.19 385.20,1103.19 391.35,1103.19 397.50,1103.20 403.65,1103.20 409.80,1103.20 415.95,1103.20 422.10,1103.20 428.25,1103.20 434.40,1103.20 440.55,1103.20 446.70,1103.20 452.85,1103.20 459.00,1103.20 465.15,1103.20 471.30,1103.20 477.45,1103.20 483.60,1103.20 489.75,1103.20 495.90,1103.20 502.05,1103.20 508.20,1103.20 514.35,1103.20 520.50,1103.20 526.65,1103.20 532.80,1103.20 538.95,1103.20 545.10,1103.20 551.25,1103.20 557.40,1103.20 563.55,1103.20 569.70,1103.20 575.85,1103.20 582.00,1103.20" fill="none" stroke="#40d840" stroke-width="1.2" stroke-linejoin="round"/>
<path d="M71.15,1097.62L69.50,1098.14L68.40,1099.73L67.85,1102.38L67.85,1103.96L68.40,1106.61L69.50,1108.20L71.15,1108.72L72.25,1108.72L73.90,1108.20L75.00,1106.61L75.55,1103.96L75.55,1102.38L75.00,1099.73L73.90,1098.14L72.25,1097.62L71.15,1097.62M68.40,1051.02L68.40,1050.49L68.95,1049.43L69.50,1048.90L70.60,1048.38L72.80,1048.38L73.90,1048.90L74.45,1049.43L75.00,1050.49L75.00,1051.55L74.45,1052.61L73.35,1054.19L67.85,1059.48L75.55,1059.48M73.35,999.14L67.85,1006.54L76.10,1006.54M73.35,999.14L73.35,1010.25M75.00,951.48L74.45,950.42L72.80,949.90L71.70,949.90L70.05,950.42L68.95,952.01L68.40,954.66L68.40,957.30L68.95,959.42L70.05,960.48L71.70,961.00L72.25,961.00L73.90,960.48L75.00,959.42L75.55,957.83L75.55,957.30L75.00,955.72L73.90,954.66L72.25,954.13L71.70,954.13L70.05,954.66L68.95,955.72L68.40,957.30M70.60,900.66L68.95,901.18L68.40,902.24L68.40,903.30L68.95,904.36L70.05,904.89L72.25,905.42L73.90,905.95L75.00,907.00L75.55,908.06L75.55,909.65L75.00,910.71L74.45,911.24L72.80,911.76L70.60,911.76L68.95,911.24L68.40,910.71L67.85,909.65L67.85,908.06L68.40,907.00L69.50,905.95L71.15,905.42L73.35,904.89L74.45,904.36L75.00,903.30L75.00,902.24L74.45,901.18L72.80,900.66L70.60,900.66M57.65,853.53L58.75,853.00L60.40,851.42L60.40,862.52M71.20,851.42L69.55,851.94L68.45,853.53L67.90,856.18L67.90,857.76L68.45,860.41L69.55,862.00L71.20,862.52L72.30,862.52L73.95,862.00L75.05,860.41L75.60,857.76L75.60,856.18L75.05,853.53L73.95,851.94L72.30,851.42L71.20,851.42" fill="none" stroke="#141414" stroke-width="1.55" stroke-linecap="round" stroke-linejoin="round"/>
<g transform="translate(20.7,1063.20) rotate(-90)"><text transform="translate(-0.70,0.00) scale(1.0713,1)" font-family='"Liberation Serif",serif' font-size="22.60" stroke="#fff" stroke-width="0.12" fill="#141414" >P</text><text transform="translate(12.47,-0.04) scale(0.9713,1)" font-family='"Liberation Serif",serif' font-size="22.54" stroke="#fff" stroke-width="0.12" fill="#141414" >D</text><text transform="translate(28.04,0.00) scale(1.1709,1)" font-family='"Liberation Serif",serif' font-size="22.60" stroke="#fff" stroke-width="0.12" fill="#141414" >F</text><g transform="translate(53.60,-10.60) scale(0.8057,0.8031)" fill="none" stroke="#141414" stroke-width="1.35"><ellipse cx="5.5" cy="6.35" rx="4.52" ry="5.74" transform="rotate(24.5 5.5 6.35)" vector-effect="non-scaling-stroke"/><path d="M6.35,0.8H13.5" vector-effect="non-scaling-stroke"/></g><text transform="translate(67.04,10.10) scale(1.1294,1)" font-family='"Liberation Serif",serif' font-size="17.83" stroke="#fff" stroke-width="0.12" fill="#141414" >n</text><text transform="translate(106.90,0.20) scale(1.0233,1)" font-family='"Liberation Serif",serif' font-size="22.44" stroke="#fff" stroke-width="0.12" fill="#141414" >x</text><text transform="translate(121.13,0.20) scale(0.8432,1)" font-family='"Liberation Serif",serif' font-size="22.57" stroke="#fff" stroke-width="0.12" fill="#141414" >1</text><text transform="translate(133.58,-0.02) scale(1.0684,1)" font-family='"Liberation Serif",serif' font-size="22.53" stroke="#fff" stroke-width="0.12" fill="#141414" >0</text><text transform="translate(146.79,-9.06) scale(1.2864,1)" font-family='"Liberation Serif",serif' font-size="16.37" stroke="#fff" stroke-width="0.12" fill="#141414" >3</text><path d="M53.60,-17.02C42.77,-12.39 42.77,-0.61 53.60,4.02M79.60,-17.02C85.63,-12.39 85.63,-0.61 79.60,4.02M104.1,-17.02H99.47V4.02H104.1M159.1,-17.02H163.72V4.02H159.1" fill="none" stroke="#141414" stroke-width="1.35"/></g>
<g transform="translate(466.40,884.40) scale(1.0106,1.0394)" fill="none" stroke="#141414" stroke-width="1.6"><ellipse cx="5.5" cy="6.35" rx="4.52" ry="5.74" transform="rotate(24.5 5.5 6.35)" vector-effect="non-scaling-stroke"/><path d="M6.35,0.8H13.5" vector-effect="non-scaling-stroke"/></g>
<text transform="translate(482.20,909.30) scale(1.1884,1)" font-family='"Liberation Serif",serif' font-size="21.86" stroke="#fff" stroke-width="0.2" fill="#141414" >n</text>
<text transform="translate(496.78,885.80) scale(0.9281,1)" font-family='"Liberation Serif",serif' font-size="21.37" letter-spacing="0.300" stroke="#fff" stroke-width="0.15" fill="#141414" >Vn</text>
<path d="M89.43,1119.98L87.73,1120.53L86.59,1122.18L86.03,1124.92L86.03,1126.58L86.59,1129.32L87.73,1130.97L89.43,1131.52L90.57,1131.52L92.27,1130.97L93.41,1129.32L93.97,1126.58L93.97,1124.92L93.41,1122.18L92.27,1120.53L90.57,1119.98L89.43,1119.98M202.97,1119.98L201.37,1120.53L200.31,1122.18L199.78,1124.92L199.78,1126.58L200.31,1129.32L201.37,1130.97L202.97,1131.52L204.03,1131.52L205.63,1130.97L206.69,1129.32L207.22,1126.58L207.22,1124.92L206.69,1122.18L205.63,1120.53L204.03,1119.98L202.97,1119.98M219.18,1122.18L220.88,1121.62L223.42,1119.98L223.42,1131.52M325.97,1119.98L324.37,1120.53L323.31,1122.18L322.77,1124.92L322.77,1126.58L323.31,1129.32L324.37,1130.97L325.97,1131.52L327.03,1131.52L328.63,1130.97L329.69,1129.32L330.23,1126.58L330.23,1124.92L329.69,1122.18L328.63,1120.53L327.03,1119.98L325.97,1119.98M342.03,1122.73L342.03,1122.18L342.58,1121.08L343.14,1120.53L344.24,1119.98L346.46,1119.98L347.56,1120.53L348.12,1121.08L348.67,1122.18L348.67,1123.28L348.12,1124.38L347.01,1126.03L341.47,1131.52L349.23,1131.52M448.97,1119.98L447.37,1120.53L446.31,1122.18L445.77,1124.92L445.77,1126.58L446.31,1129.32L447.37,1130.97L448.97,1131.52L450.03,1131.52L451.63,1130.97L452.69,1129.32L453.23,1126.58L453.23,1124.92L452.69,1122.18L451.63,1120.53L450.03,1119.98L448.97,1119.98M465.58,1119.98L471.67,1119.98L468.35,1124.38L470.01,1124.38L471.12,1124.92L471.67,1125.47L472.23,1127.12L472.23,1128.22L471.67,1129.88L470.56,1130.97L468.90,1131.52L467.24,1131.52L465.58,1130.97L465.03,1130.42L464.47,1129.32M571.97,1119.98L570.37,1120.53L569.31,1122.18L568.77,1124.92L568.77,1126.58L569.31,1129.32L570.37,1130.97L571.97,1131.52L573.03,1131.52L574.63,1130.97L575.69,1129.32L576.23,1126.58L576.23,1124.92L575.69,1122.18L574.63,1120.53L573.03,1119.98L571.97,1119.98M593.21,1119.98L587.77,1127.67L595.93,1127.67M593.21,1119.98L593.21,1131.52" fill="none" stroke="#141414" stroke-width="1.55" stroke-linecap="round" stroke-linejoin="round"/>
<circle cx="212.70" cy="1131.0" r="1.3" fill="#141414"/>
<circle cx="335.70" cy="1131.0" r="1.3" fill="#141414"/>
<circle cx="458.70" cy="1131.0" r="1.3" fill="#141414"/>
<circle cx="581.70" cy="1131.0" r="1.3" fill="#141414"/>
<g transform="translate(322.00,1160.70) scale(1.0389,1.0157)" fill="none" stroke="#141414" stroke-width="1.6"><ellipse cx="5.5" cy="6.35" rx="4.52" ry="5.74" transform="rotate(24.5 5.5 6.35)" vector-effect="non-scaling-stroke"/><path d="M6.35,0.8H13.5" vector-effect="non-scaling-stroke"/></g>
<text transform="translate(338.11,1185.50) scale(1.1801,1)" font-family='"Liberation Serif",serif' font-size="21.65" fill="#141414" >n</text>
</svg></body></html>
